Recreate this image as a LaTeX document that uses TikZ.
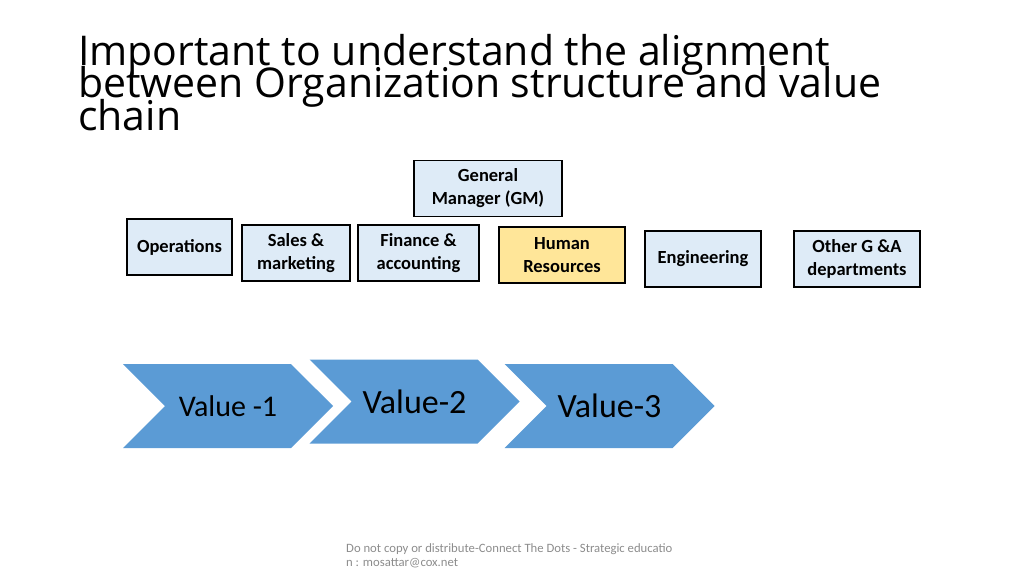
\documentclass[tikz,border=0pt]{standalone}
\usepackage{fontspec}
\setmainfont{Carlito}
\newfontfamily\titlefont{Open Sans}
\usetikzlibrary{shapes.symbols}
\definecolor{boxblue}{HTML}{DEEBF7}
\definecolor{boxgold}{HTML}{FFE699}
\definecolor{chevblue}{HTML}{5B9BD5}
\definecolor{footgray}{HTML}{8C8C8C}

\begin{document}
\begin{tikzpicture}[x=1pt,y=-1pt, dept/.style={draw,line width=1.3pt,fill=boxblue,minimum height=56pt,inner sep=2pt,align=center,font=\bfseries\fontsize{18.5}{23}\selectfont}, chev/.style={signal,signal from=west,signal to=east,signal pointer angle=90,fill=chevblue,minimum width=210pt,minimum height=84pt,inner sep=0pt,font=\fontsize{34}{36}\selectfont}]
\useasboundingbox (0,0) rectangle (1024,575);
% title
\node[anchor=base west,align=left,inner sep=0pt,font=\titlefont\fontsize{41}{34}\selectfont] (title) at (78,131) {Important to understand the alignment\\[-9pt]between Organization structure and value\\[-9pt]chain};
% departments
\node[dept,minimum width=148pt] (gm) at (488,188.5) {General\\Manager (GM)};
\node[dept,minimum width=105pt] (ops) at (179.5,247) {Operations};
\node[dept,minimum width=108pt] (sales) at (296,253) {Sales \&\\marketing};
\node[dept,minimum width=121pt] (fin) at (418.5,253) {Finance \&\\accounting};
\node[dept,minimum width=126pt,fill=boxgold] (hr) at (562,255) {Human\\Resources};
\node[dept,minimum width=116pt] (eng) at (703,259) {Engineering};
\node[dept,minimum width=126pt] (oth) at (857,259) {Other G \&A\\departments};
% value chain
\node[chev,font=\fontsize{30}{32}\selectfont] (v1) at (228,406) {Value -1};
\node[chev] (v2) at (414.5,401.5) {Value-2};
\node[chev] (v3) at (609.5,406) {Value-3};
% footer
\node[anchor=base west,align=left,inner sep=0pt,text=footgray,font=\fontsize{12.7}{13.5}\selectfont] (foot) at (346,566) {Do not copy or distribute-Connect The Dots - Strategic educatio\\n : mosattar@cox.net};
\end{tikzpicture}
\end{document}
